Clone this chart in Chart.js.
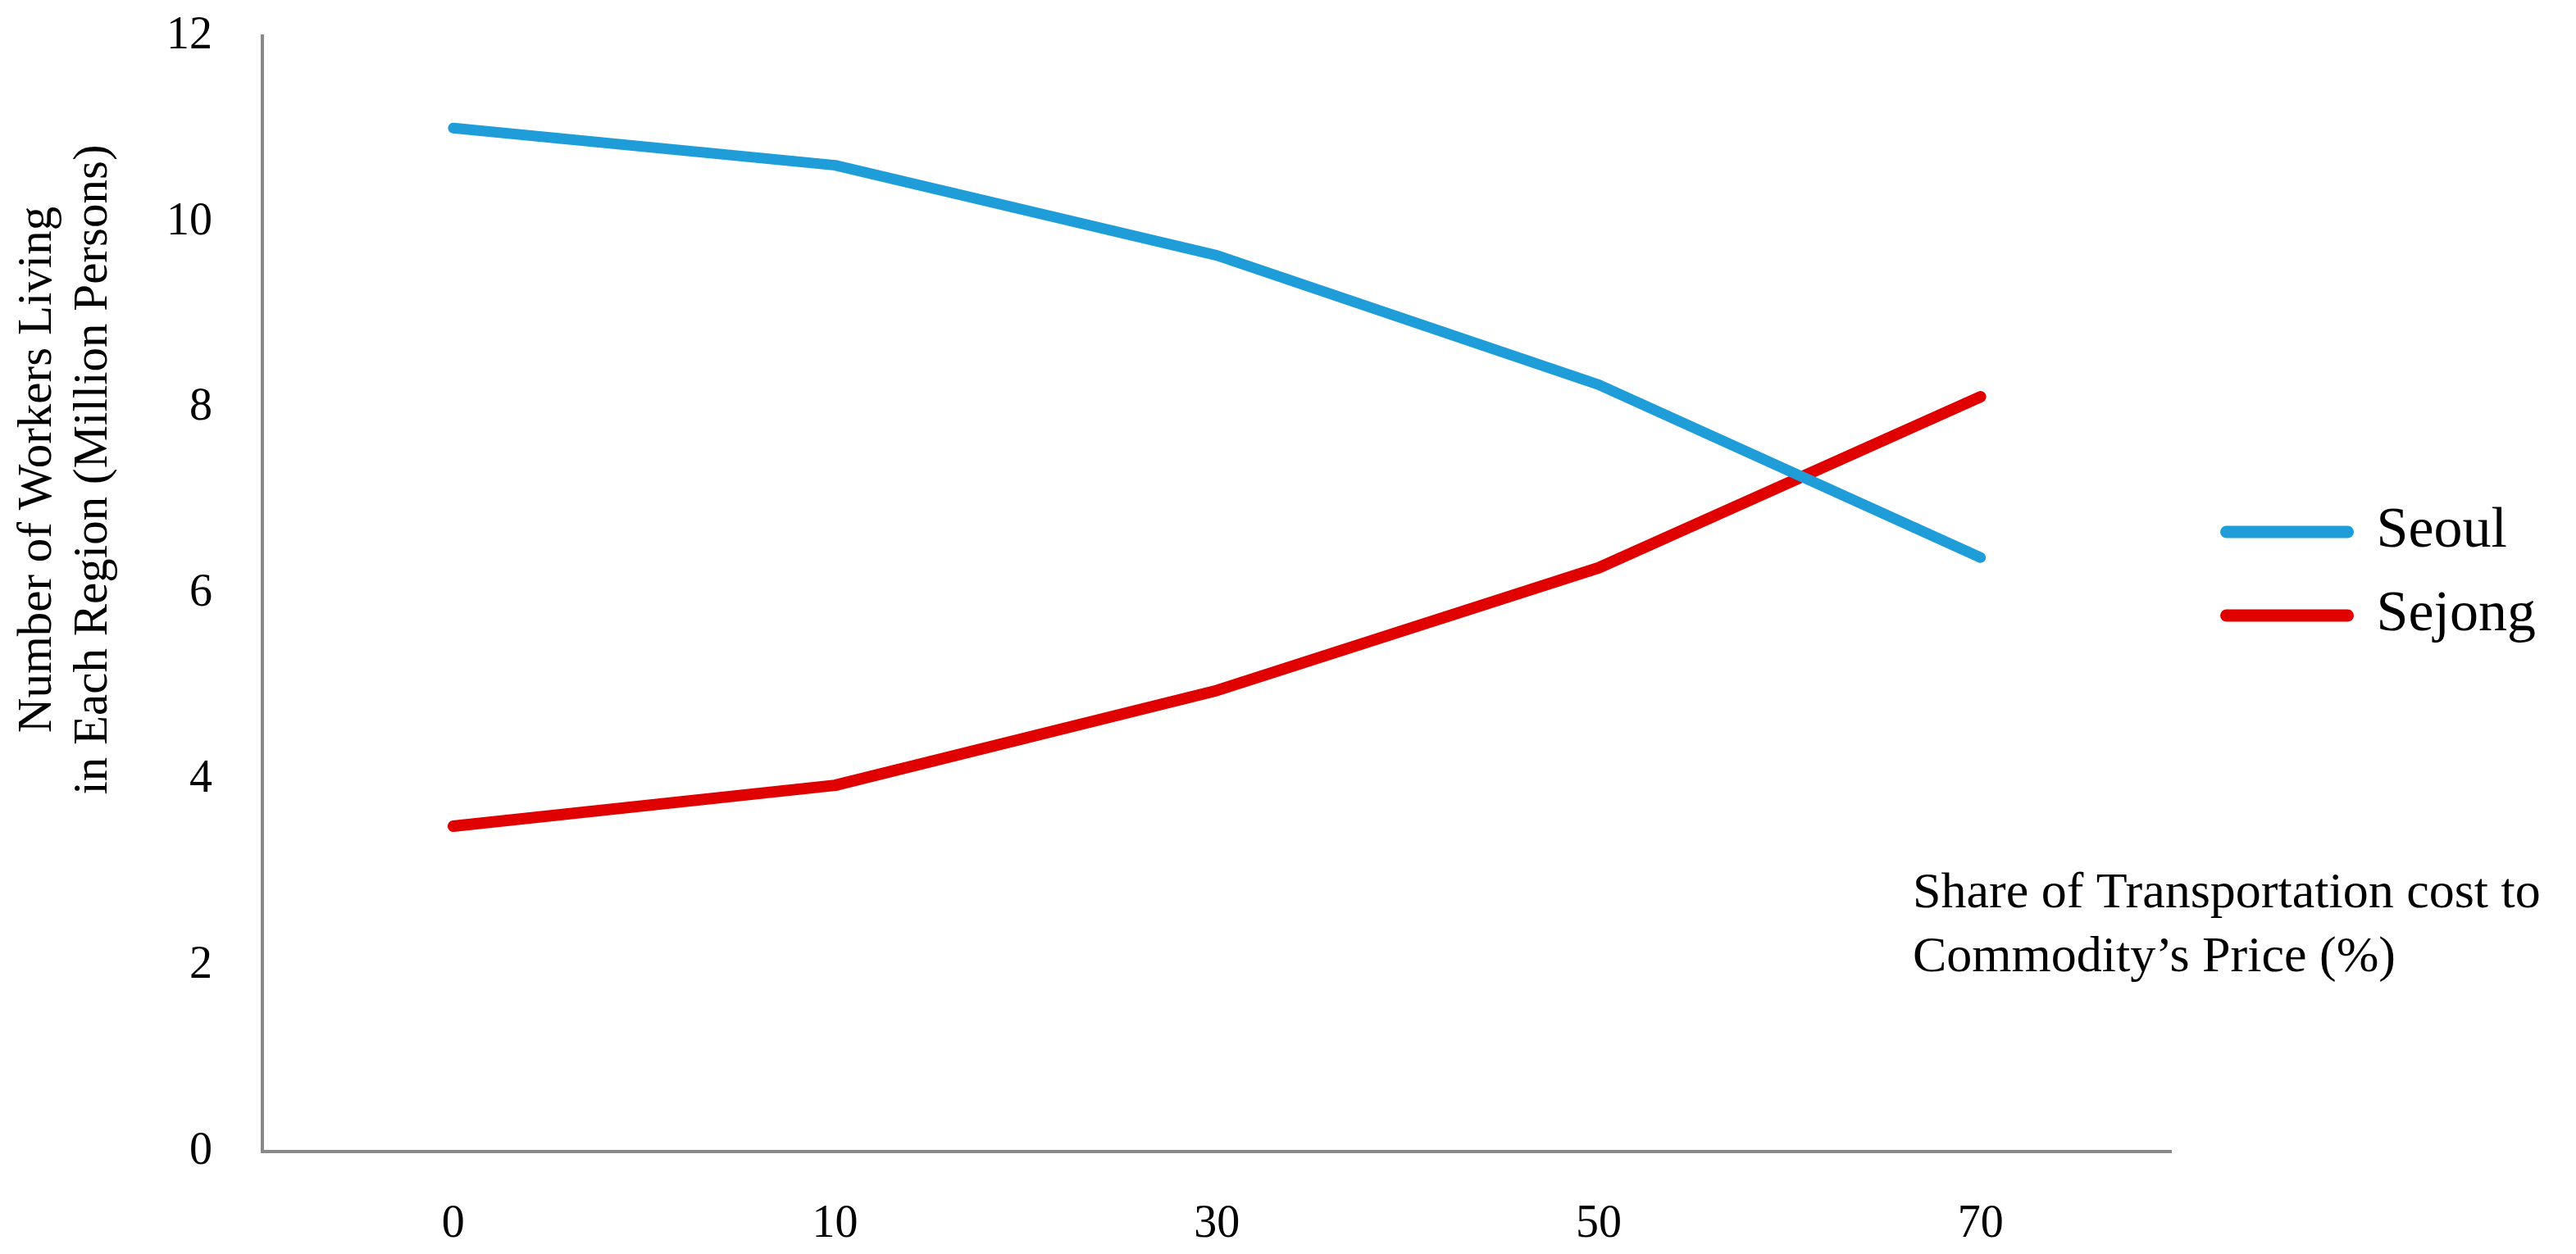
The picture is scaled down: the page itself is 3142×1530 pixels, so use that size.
<!DOCTYPE html>
<html>
<head>
<meta charset="utf-8">
<script src="https://cdn.jsdelivr.net/npm/chart.js@4"></script>
<style>
  html, body { margin: 0; padding: 0; background: #fff; }
  #wrap { width: 3142px; height: 1530px; }
</style>
</head>
<body>
<div id="wrap"><canvas id="lineChart"></canvas></div>
<script>
// data
const categories = ['0', '10', '30', '50', '70'];
const seoul = [11.01, 10.61, 9.64, 8.25, 6.39];
const sejong = [3.50, 3.94, 4.96, 6.28, 8.12];
const yMin = 0;
const yMax = 12;
const yStep = 2;
const yTitleLines = ['Number of Workers Living', 'in Each Region (Million Persons)'];
const xTitleLines = ['Share of Transportation cost to', 'Commodity\u2019s Price (%)'];

const FONT = "'Liberation Serif', 'DejaVu Serif', serif";
const BLUE = '#1e9dd9';
const RED = '#e00000';
const AXIS = '#898989';

// axis titles are drawn by hand (Excel-style placement)
const axisTitles = {
    id: 'axisTitles',
    afterDraw(chart) {
        const ctx = chart.ctx;
        const area = chart.chartArea;
        ctx.save();
        ctx.fillStyle = '#000';
        ctx.font = '59px ' + FONT;
        ctx.textAlign = 'center';
        ctx.textBaseline = 'alphabetic';
        const yMid = 573;
        [area.left - 258, area.left - 190].forEach((x, i) => {
            ctx.save();
            ctx.translate(x, yMid);
            ctx.rotate(-Math.PI / 2);
            ctx.fillText(yTitleLines[i], 0, 0);
            ctx.restore();
        });
        ctx.font = '62px ' + FONT;
        ctx.textAlign = 'left';
        ctx.fillText(xTitleLines[0], 2333, 1107);
        ctx.fillText(xTitleLines[1], 2333, 1185);
        ctx.restore();
    }
};

const lineChart = document.getElementById('lineChart').getContext('2d');
new Chart(lineChart, {
    type: 'line',
    data: {
        labels: categories,
        datasets: [{
            label: 'Seoul',
            data: seoul,
            borderColor: BLUE,
            backgroundColor: BLUE,
            pointBorderColor: BLUE,
            borderWidth: 13,
            borderCapStyle: 'round',
            borderJoinStyle: 'round',
            pointRadius: 0,
            pointHoverRadius: 0,
            tension: 0,
            fill: false
        }, {
            label: 'Sejong',
            data: sejong,
            borderColor: RED,
            backgroundColor: RED,
            pointBorderColor: RED,
            borderWidth: 14,
            borderCapStyle: 'round',
            borderJoinStyle: 'round',
            pointRadius: 0,
            pointHoverRadius: 0,
            tension: 0,
            fill: false
        }]
    },
    options: {
        responsive: true,
        maintainAspectRatio: false,
        animation: false,
        layout: {
            padding: { top: 44, left: 142, right: 39, bottom: 0 }
        },
        scales: {
            x: {
                type: 'category',
                offset: true,
                grid: { display: false, drawTicks: false, tickLength: 0 },
                border: { display: true, color: AXIS, width: 4 },
                ticks: {
                    color: '#000',
                    padding: 56,
                    maxRotation: 0,
                    font: { family: FONT, size: 56 }
                },
                afterFit(scale) { scale.height = 125; }
            },
            y: {
                min: yMin,
                max: yMax,
                grid: { display: false, drawTicks: false, tickLength: 0 },
                border: { display: true, color: AXIS, width: 4 },
                ticks: {
                    stepSize: yStep,
                    color: '#000',
                    padding: 61,
                    font: { family: FONT, size: 56 }
                },
                afterFit(scale) {
                    scale.paddingTop = 30;
                    scale.paddingBottom = 30;
                }
            },
            // empty spacer between plot and legend
            y2: {
                position: 'right',
                display: true,
                grid: { display: false, drawTicks: false, tickLength: 0 },
                border: { display: false },
                ticks: { display: false },
                afterFit(scale) { scale.width = 35; }
            }
        },
        plugins: {
            legend: {
                display: true,
                position: 'right',
                align: 'start',
                fullSize: false,
                title: {
                    display: true,
                    text: ' ',
                    font: { size: 10 },
                    padding: { top: 526, bottom: 0 }
                },
                labels: {
                    usePointStyle: true,
                    pointStyle: 'line',
                    pointStyleWidth: 148,
                    padding: 32,
                    color: '#000',
                    font: { family: FONT, size: 70 },
                    generateLabels(chart) {
                        const items = Chart.defaults.plugins.legend.labels.generateLabels(chart);
                        items.forEach((item) => {
                            const ds = chart.data.datasets[item.datasetIndex];
                            item.pointStyle = 'line';
                            item.lineCap = 'round';
                            item.lineWidth = 15;
                            item.strokeStyle = ds.borderColor;
                            item.fillStyle = ds.borderColor;
                        });
                        return items;
                    }
                }
            },
            tooltip: { enabled: false }
        }
    },
    plugins: [axisTitles]
});
</script>
</body>
</html>
